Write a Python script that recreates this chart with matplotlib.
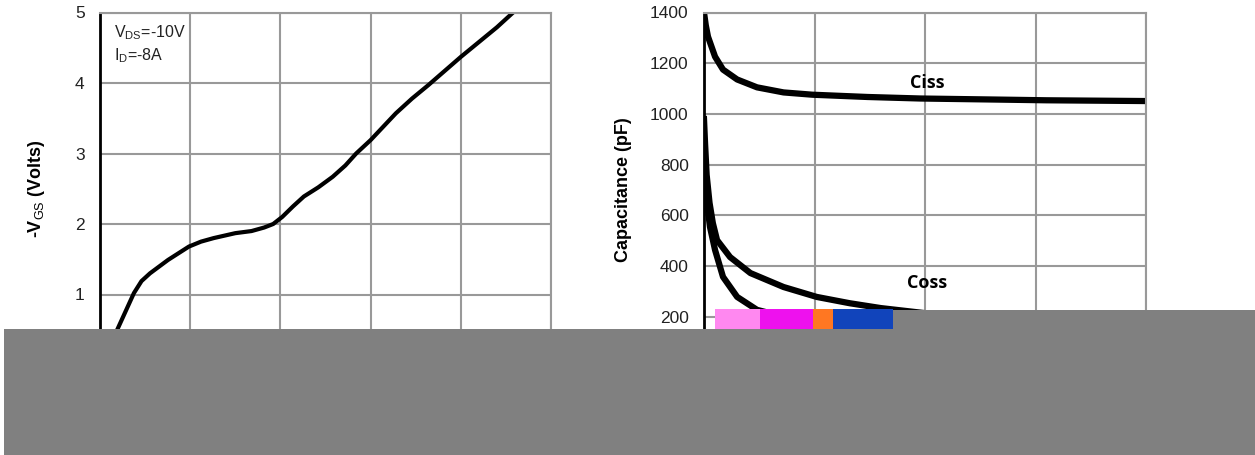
import matplotlib
matplotlib.use("Agg")
import matplotlib.pyplot as plt
from matplotlib.patches import Rectangle

plt.rcParams['font.family'] = ['Liberation Sans', 'DejaVu Sans']
plt.rcParams['mathtext.fontset'] = 'custom'
plt.rcParams['mathtext.rm'] = 'Liberation Sans'
plt.rcParams['mathtext.it'] = 'Liberation Sans'
plt.rcParams['mathtext.bf'] = 'Liberation Sans:bold'

# ---- Gate charge (left) ----
qg_nc = [0.05, 0.99, 1.88, 2.3, 2.77, 3.77, 4.93, 5.6, 6.3, 7.5, 8.4, 9.1, 9.6,
         10.1, 10.7, 11.3, 12.1, 12.9, 13.6, 14.2, 15.0, 15.7, 16.4, 17.3,
         18.2, 19.1, 20.0, 21.0, 22.0, 22.9, 25.0]
vgs_v = [0.0, 0.52, 1.02, 1.19, 1.30, 1.49, 1.68, 1.75, 1.80, 1.87, 1.90, 1.95, 2.0,
         2.10, 2.25, 2.39, 2.52, 2.67, 2.83, 3.00, 3.19, 3.38, 3.57, 3.78,
         3.97, 4.17, 4.37, 4.58, 4.79, 5.00, 5.45]
gate_yticks = [0, 1, 2, 3, 4, 5]
gate_xticks = [0, 5, 10, 15, 20, 25]

# ---- Capacitance (right) ----
ciss_v = [0.0, 0.08, 0.18, 0.5, 0.86, 1.5, 2.4, 3.6, 4.9, 7.4, 9.8, 13.1, 15.5, 20.0]
ciss_pf = [1400, 1350, 1305, 1226, 1175, 1136, 1105, 1085, 1076, 1067, 1061, 1057, 1054, 1051]
coss_v = [0.0, 0.05, 0.12, 0.25, 0.4, 0.59, 1.18, 2.1, 3.6, 5.1, 6.6, 8.0, 10.0, 15.0, 20.0]
coss_pf = [980, 880, 760, 650, 570, 503, 436, 373, 318, 279, 254, 235, 215, 180, 160]
crss_v = [0.0, 0.05, 0.12, 0.27, 0.5, 0.86, 1.5, 2.4, 3.3, 4.9, 8.0, 12.0, 20.0]
crss_pf = [800, 740, 660, 555, 464, 358, 279, 228, 208, 168, 130, 105, 85]
cap_yticks = [0, 200, 400, 600, 800, 1000, 1200, 1400]
cap_xticks = [0, 5, 10, 15, 20]

W, H = 1255, 455
fig = plt.figure(figsize=(W / 100, H / 100), dpi=100)

def px_rect(x0, y0, x1, y1):
    return [x0 / W, 1 - y1 / H, (x1 - x0) / W, (y1 - y0) / H]

ax1 = fig.add_axes(px_rect(100, 12.5, 551, 365))
ax2 = fig.add_axes(px_rect(704, 12.5, 1146, 367.7))

grid_col = '#999999'
for ax in (ax1, ax2):
    ax.grid(True, color=grid_col, linewidth=1.5)
    ax.set_axisbelow(True)
    for s in ('top', 'right', 'bottom'):
        ax.spines[s].set_color(grid_col)
        ax.spines[s].set_linewidth(1.5)
    ax.spines['left'].set_color('black')
    ax.spines['left'].set_linewidth(2)
    ax.tick_params(length=0, labelsize=12.5, pad=11, colors='#222222')

ax1.plot(qg_nc, vgs_v, color='black', linewidth=3, solid_joinstyle='round')
ax1.set_xlim(0, 25)
ax1.set_ylim(0, 5)
ax1.set_xticks(gate_xticks)
ax1.set_yticks(gate_yticks)
ax1.set_ylabel(r'-V$_{\mathrm{GS}}$ (Volts)', fontsize=13, fontweight='bold')
ax1.yaxis.set_label_coords(-0.118, 0.5)
ax1.text(0.031, 0.942, r'V$_{\mathrm{DS}}$=-10V', transform=ax1.transAxes,
         fontsize=11.5, va='center', ha='left', color='#222222')
ax1.text(0.031, 0.879, r'I$_{\mathrm{D}}$=-8A', transform=ax1.transAxes,
         fontsize=11.5, va='center', ha='left', color='#222222')

for xs, ys in ((ciss_v, ciss_pf), (coss_v, coss_pf), (crss_v, crss_pf)):
    ax2.plot(xs, ys, color='black', linewidth=4.5, solid_joinstyle='round')
ax2.set_xlim(0, 20)
ax2.set_ylim(0, 1400)
ax2.set_xticks(cap_xticks)
ax2.set_yticks(cap_yticks)
ax2.set_ylabel('Capacitance (pF)', fontsize=13, fontweight='bold')
ax2.yaxis.set_label_coords(-0.163, 0.5)
ax2.text(10.1, 1124, 'Ciss', fontsize=13, fontweight='bold',
         family=['Open Sans', 'DejaVu Sans'], ha='center', va='center')
ax2.text(10.1, 334, 'Coss', fontsize=13, fontweight='bold',
         family=['Open Sans', 'DejaVu Sans'], ha='center', va='center')

# occluding blocks over the lower part of the image
def fig_rect(x0, y0, x1, y1, color):
    r = Rectangle((x0 / W, 1 - y1 / H), (x1 - x0) / W, (y1 - y0) / H,
                  transform=fig.transFigure, facecolor=color, edgecolor='none',
                  zorder=10)
    fig.patches.append(r)

fig_rect(4, 329, 1255, 455, '#808080')
fig_rect(893, 310, 1255, 329, '#808080')
fig_rect(715, 309, 760, 329, '#ff88f0')
fig_rect(760, 309, 813, 329, '#ee11ee')
fig_rect(813, 309, 833, 329, '#ff7722')
fig_rect(833, 309, 893, 329, '#1144bb')

fig.savefig('out.png', dpi=100)
